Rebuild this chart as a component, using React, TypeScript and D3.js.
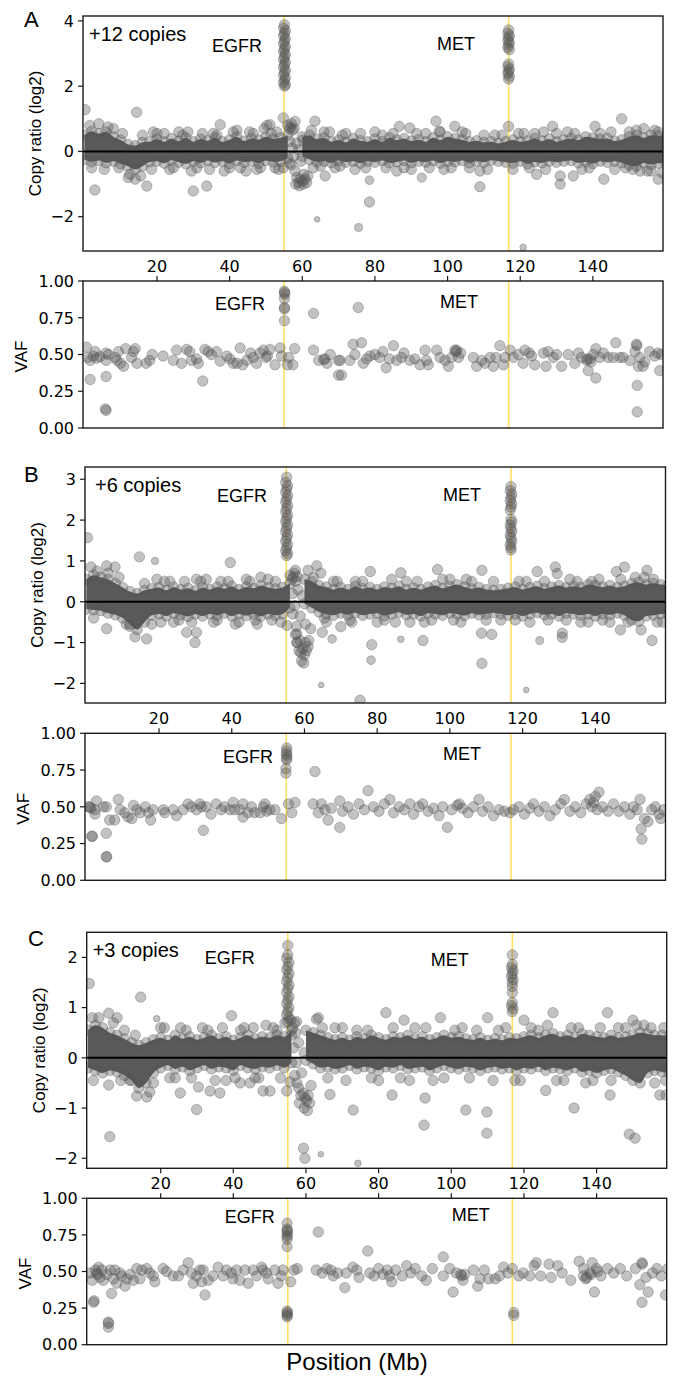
import React from "react";
import * as d3 from "d3";

// ---------------- DATA ----------------
// copy-ratio dense band: bin centres (Mb) with upper / lower edge of the dense scatter (log2)
const binMb = [0,2,4,6,8,10,12,14,16,18,20,22,24,26,28,30,32,34,36,38,40,42,44,46,48,50,52,54,56,58,60,62,64,66,68,70,72,74,76,78,80,82,84,86,88,90,92,94,96,98,100,102,104,106,108,110,112,114,116,118,120,122,124,126,128,130,132,134,136,138,140,142,144,146,148,150,152,154,156,158,160];
const N = NaN;
const coreHiA = [.5,.62,.55,.6,.45,.35,.22,.18,.28,.3,.38,.3,.4,.32,.42,.3,.38,.33,.42,.3,.36,.45,.32,.4,.36,.45,.38,.42,.5,N,.45,.5,.38,.42,.3,.35,.28,.4,.33,.3,.38,.3,.42,.35,.4,.32,.36,.3,.42,.35,.45,.4,.36,.3,.33,.28,.3,.25,.3,.35,.3,.33,.4,.32,.38,.3,.36,.4,.35,.45,.42,.38,.4,.32,.36,.45,.5,.42,.5,.48,.45];
const coreLoA = [-.25,-.32,-.28,-.35,-.3,-.38,-.45,-.55,-.45,-.32,-.3,-.36,-.27,-.33,-.38,-.3,-.35,-.28,-.34,-.3,-.37,-.28,-.33,-.3,-.36,-.28,-.32,-.3,-.2,N,-.15,-.25,-.32,-.3,-.35,-.28,-.33,-.3,-.36,-.3,-.33,-.28,-.35,-.32,-.28,-.35,-.3,-.33,-.28,-.36,-.3,-.32,-.28,-.35,-.3,-.33,-.27,-.3,-.33,-.36,-.3,-.38,-.32,-.35,-.3,-.33,-.3,-.28,-.35,-.32,-.37,-.3,-.33,-.3,-.35,-.42,-.45,-.35,-.4,-.36,-.35];
const coreHiB = [.55,.65,.6,.55,.45,.35,.25,.2,.28,.32,.35,.28,.36,.3,.33,.27,.35,.3,.36,.32,.38,.3,.36,.33,.4,.35,.32,.35,.45,N,.55,.5,.4,.36,.3,.35,.3,.38,.32,.35,.3,.36,.33,.38,.3,.34,.3,.36,.4,.33,.38,.42,.36,.32,.35,.3,.28,.3,.33,.36,.3,.35,.38,.32,.36,.4,.35,.38,.35,.42,.4,.36,.4,.35,.38,.45,.48,.42,.45,.42,.4];
const coreLoB = [-.18,-.2,-.22,-.28,-.32,-.4,-.55,-.68,-.5,-.33,-.3,-.35,-.28,-.32,-.36,-.3,-.35,-.3,-.33,-.28,-.35,-.3,-.34,-.3,-.36,-.3,-.33,-.3,-.15,N,-.05,-.15,-.25,-.3,-.33,-.28,-.32,-.27,-.33,-.3,-.28,-.34,-.3,-.26,-.32,-.3,-.35,-.28,-.3,-.33,-.28,-.3,-.34,-.28,-.32,-.3,-.27,-.3,-.33,-.3,-.35,-.3,-.27,-.32,-.3,-.35,-.28,-.3,-.33,-.3,-.35,-.3,-.32,-.28,-.33,-.45,-.48,-.35,-.33,-.3,-.3];
const coreHiC = [.55,.65,.6,.5,.45,.38,.3,.25,.3,.36,.4,.35,.45,.38,.42,.36,.4,.45,.38,.42,.35,.4,.45,.38,.42,.4,.45,.42,.55,N,.55,.5,.45,.4,.36,.4,.35,.42,.38,.45,.4,.36,.42,.4,.45,.38,.42,.36,.4,.45,.4,.42,.38,.36,.4,.35,.38,.35,.4,.38,.42,.45,.4,.45,.48,.42,.45,.4,.48,.45,.42,.4,.45,.4,.42,.45,.5,.48,.45,.45,.42];
const coreLoC = [-.2,-.25,-.3,-.25,-.28,-.35,-.45,-.6,-.5,-.3,-.2,-.15,-.22,-.18,-.25,-.2,-.15,-.22,-.18,-.2,-.25,-.15,-.2,-.22,-.18,-.2,-.15,-.2,-.1,N,-.05,-.12,-.2,-.18,-.22,-.2,-.15,-.22,-.18,-.2,-.25,-.18,-.2,-.15,-.22,-.2,-.18,-.25,-.2,-.15,-.2,-.22,-.18,-.2,-.25,-.2,-.18,-.22,-.2,-.25,-.2,-.22,-.18,-.25,-.2,-.22,-.25,-.2,-.28,-.25,-.3,-.25,-.22,-.28,-.35,-.45,-.5,-.3,-.25,-.28,-.3];

// amplified segments [Mb, log2 ratio]
const egfrA = [[55.1,3.88],[54.85,3.78],[55.35,3.7],[55.1,3.62],[54.85,3.54],[55.35,3.46],[55.1,3.38],[54.85,3.3],[55.35,3.22],[55.1,3.14],[54.85,3.06],[55.35,2.98],[55.1,2.9],[54.85,2.82],[55.35,2.74],[55.1,2.66],[54.85,2.58],[55.35,2.5],[55.1,2.42],[54.85,2.34],[55.35,2.26],[55.1,2.18],[54.85,2.1],[55.35,2.04],[55.1,2.0]];
const metA = [[116.8,3.72],[116.6,3.62],[117.0,3.55],[116.8,3.48],[116.6,3.4],[117.0,3.33],[116.8,3.26],[116.6,3.18],[117.0,3.12],[116.8,2.68],[116.6,2.6],[117.0,2.52],[116.8,2.45],[116.6,2.38],[117.0,2.3],[116.8,2.22]];
const egfrB = [[55.1,3.05],[54.85,2.92],[55.35,2.84],[55.1,2.76],[54.85,2.68],[55.35,2.6],[55.1,2.52],[54.85,2.44],[55.35,2.36],[55.1,2.28],[54.85,2.2],[55.35,2.12],[55.1,2.04],[54.85,1.96],[55.35,1.88],[55.1,1.8],[54.85,1.72],[55.35,1.64],[55.1,1.56],[54.85,1.48],[55.35,1.4],[55.1,1.32],[54.85,1.25],[55.35,1.18],[55.1,1.13]];
const metB = [[116.8,2.82],[116.6,2.72],[117.0,2.64],[116.8,2.56],[116.6,2.48],[117.0,2.4],[116.8,2.32],[116.6,2.25],[116.8,2.02],[117.0,1.95],[116.6,1.88],[116.8,1.8],[117.0,1.72],[116.6,1.64],[116.8,1.56],[117.0,1.48],[116.6,1.4],[116.8,1.33],[116.8,1.27]];
const egfrC = [[55.0,2.24],[55.0,2.05],[54.7,1.98],[55.3,1.9],[55.0,1.82],[54.7,1.75],[55.3,1.68],[55.0,1.6],[54.7,1.52],[55.3,1.45],[55.0,1.38],[54.7,1.3],[55.3,1.22],[55.0,1.15],[54.7,1.08],[55.3,1.0],[55.0,0.93],[54.7,0.86],[55.3,0.8],[55.0,0.72]];
const metC = [[116.8,2.05],[116.8,1.86],[116.6,1.8],[117.0,1.74],[116.8,1.68],[116.6,1.62],[117.0,1.56],[116.8,1.5],[116.8,1.42],[116.8,1.3],[116.8,1.1],[116.6,1.04],[117.0,0.98],[116.8,0.92]];

// centromere-adjacent clusters [Mb, log2 ratio]
const clusterA = [[56,.8],[56.5,.7],[57,.85],[57.3,.65],[56.8,.75],[57.8,.7],[58,-.6],[58.5,-.8],[59,-.95],[59.5,-.85],[60,-.9],[60.3,-1.0],[60.8,-.85],[61.2,-.95],[59.2,-1.05],[60.5,-.7],[61.5,-.75],[58.2,-1.0],[56.6,.3],[57.2,.1],[57.6,-.15],[58.4,.25],[59,.05],[59.6,-.3],[60.2,.35],[56.9,-.4]];
const clusterB = [[56,.65],[56.6,.55],[57.2,.7],[57.6,.5],[56.9,.6],[58,.62],[57.5,-.8],[58,-1.0],[58.5,-1.2],[59,-1.25],[59.5,-1.15],[60,-1.3],[60.5,-1.2],[61,-1.1],[59.2,-1.45],[59.8,-1.5],[58.8,-.95],[60.3,-1.0],[61.2,-.95],[57.8,-.6],[56.7,.2],[57.3,-.1],[58.2,.3],[58.8,-.35],[59.4,.15],[56.8,-.3]];
const clusterC = [[55.8,.75],[56.3,.6],[56.8,.7],[57.2,.5],[56,.45],[57.5,-.5],[58,-.6],[58.6,-.75],[59.2,-.7],[59.8,-.8],[60.2,-.85],[60.6,-.75],[61,-.9],[59.5,-1.0],[60.4,-1.05],[58.2,-.9],[61.4,-.55],[56.6,.2],[57.3,-.1],[58,.3],[58.8,-.3],[59.5,.1],[56.9,-.35]];

// scattered segments [Mb, log2 ratio, weight]
const outA = [[0.2,1.28,1],[14.4,1.2,1],[2.9,-1.18,1],[17.2,-1.06,1],[30,-1.21,1],[33.7,-1.06,1],[12.1,-.8,1],[14,-.85,1],[37.4,.82,1],[19,.6,1],[51.1,.82,1],[50.3,.8,1],[54.8,1.03,1],[54.8,-.5,1],[52.5,-.5,1],[58,.92,1],[64.1,-2.08,.3],[63.5,.93,1],[66.3,-.75,1],[65,-.45,1],[75.5,-2.33,.6],[78.5,-1.55,1],[78.5,-.88,.7],[120.8,-2.94,.4],[108.9,-1.08,1],[96.8,.93,1],[86.7,.77,1],[89.6,.72,1],[102,.77,1],[128.9,.77,1],[126.4,.6,1],[140.6,.77,1],[147.9,1.0,1],[131,-.75,1],[131,-1.0,1],[134.6,-.75,1],[143,-.85,1],[158,-.85,1],[156,-.6,1],[92.9,-.8,.8],[86,-.6,1],[108.9,-.6,1],[124.5,-.7,1],[70.4,-.45,1],[97.7,.62,1],[116.8,.77,1],
  [1.5,.8,1],[4,.85,1],[6.5,.75,1],[8,.7,1],[9.5,-.5,1],[5.5,-.55,1],[16,.5,1],[18.5,-.55,1],[22,.55,1],[24.5,-.5,1],[26,.6,1],[28.5,.6,1],[31,-.5,1],[35.5,.55,1],[38.5,-.6,1],[41,.6,1],[43,-.5,1],[45.5,.6,1],[47.5,-.55,1],[49.5,.7,1],[53,.6,1],[56.5,-.35,1],[62.5,.65,1],[67.5,.6,1],[72,.55,1],[74.5,-.55,1],[80,.6,1],[83,-.5,1],[90,-.55,1],[94,.55,1],[99,-.55,1],[104,.6,1],[106,-.5,1],[113,.5,1],[118,-.55,1],[121,.55,1],[124,.55,1],[133,.6,1],[137,-.55,1],[145,.6,1],[149,-.5,1],[152,.65,1],[154,.7,1],[157,.65,1],[159,-.65,1],[151,-.55,1],
  [2,-.5,1],[10.5,.55,1],[12.5,-.7,1],[15.5,-.75,1],[20,.55,1],[23.5,-.55,1],[27,.5,1],[29.5,-.6,1],[32.5,.55,1],[34.5,-.55,1],[36.5,.5,1],[40,-.5,1],[42,.65,1],[44.5,-.6,1],[46.5,.55,1],[48.5,-.5,1],[51.5,.55,1],[53.5,-.55,1],[63,-.5,1],[66,.6,1],[69,-.5,1],[71,.5,1],[76,.55,1],[77.5,-.5,1],[82,.5,1],[85,.55,1],[88,-.5,1],[91.5,.55,1],[95,-.5,1],[98,.6,1],[101,-.5,1],[105,.55,1],[110,.5,1],[111,-.55,1],[115,.5,1],[119.5,.55,1],[122.5,-.5,1],[127,-.55,1],[130,.55,1],[135,.55,1],[139,-.5,1],[142,.55,1],[146,-.55,1],[150,.6,1],[153,-.6,1],[155,-.6,1],[158,.6,1]];
const outB = [[0.3,1.57,1],[14.6,1.1,1],[18.9,1.0,.5],[39.6,.96,1],[5.6,.88,1],[7.9,.85,1],[1.3,.85,1],[19.4,.55,1],[30.3,.55,1],[27.6,-.75,1],[30.3,-.75,1],[29.9,-1.0,1],[16.6,-.91,1],[13.4,-.86,1],[5.6,-.66,1],[55.2,-.58,1],[57.9,-.79,1],[57.9,-1.0,1],[64.6,-2.04,.3],[60.3,-.55,1],[61.7,-.66,1],[67.6,-.91,.7],[64.9,-.75,1],[66,-.5,1],[57.5,.77,1],[61,.77,1],[63.4,.88,1],[64.5,.7,1],[75.3,-2.41,1],[78.3,-1.43,.7],[78.5,-1.05,1],[70,-.61,1],[86.5,-.92,.4],[92.6,-.95,1],[108.8,-1.51,1],[108.7,-.77,1],[111.5,-.8,1],[121,-2.16,.3],[124.7,-.95,.6],[130.9,-.77,1],[130.9,-.87,1],[146.9,-.69,1],[152.6,-.69,1],[155.6,-.95,1],[78.1,.74,1],[86.5,.71,1],[96.6,.79,1],[108.8,.77,1],[124,.74,1],[129,.85,1],[129.5,.69,1],[145.8,.74,1],[148,.85,1],[154.2,.77,1],
  [3,.75,1],[9,.6,1],[11,-.55,1],[20.5,-.5,1],[23,.5,1],[25.5,-.45,1],[33,.55,1],[35,-.5,1],[37,.5,1],[42,-.5,1],[44,.55,1],[46.5,-.45,1],[48,.6,1],[52,.5,1],[53.5,-.5,1],[68,.5,1],[72.5,-.45,1],[74,.5,1],[82,-.45,1],[84,.55,1],[89,-.5,1],[91,.5,1],[95,-.45,1],[100,.55,1],[103,-.5,1],[106,.5,1],[114,-.45,1],[119,.5,1],[122,-.5,1],[127,-.45,1],[133,.55,1],[136,-.5,1],[139,.5,1],[142,-.45,1],[151,.6,1],[156,.55,1],[158.5,-.5,1],
  [2,-.4,1],[6,.7,1],[12,-.6,1],[16,.45,1],[18,-.55,1],[21.5,.5,1],[24,-.5,1],[27,.5,1],[29,-.5,1],[31.5,.5,1],[36,-.45,1],[39,.5,1],[41,-.55,1],[45,.5,1],[47,-.55,1],[50,.55,1],[51,-.45,1],[62.5,.6,1],[65.5,-.4,1],[69,.5,1],[73,-.5,1],[76,.5,1],[80,-.5,1],[85,-.5,1],[88,.5,1],[93,-.5,1],[98,.55,1],[101,-.45,1],[104.5,.55,1],[110,-.45,1],[112,.5,1],[118,-.45,1],[121,.5,1],[126,.5,1],[132,-.45,1],[135,.5,1],[138,-.5,1],[141,.55,1],[144,-.5,1],[147,.55,1],[149,-.5,1],[153.5,.6,1],[157,-.5,1]];
const outC = [[0.36,1.48,1],[14.5,1.21,1],[18.9,.78,.4],[39.5,.84,1],[5.7,.89,1],[8,.8,1],[1.2,.8,1],[6,-1.57,1],[5.7,-.54,1],[13.4,-.76,1],[16.2,-.78,1],[17,-.68,1],[25.4,-.7,1],[29.9,-1.03,1],[30.4,-.58,1],[33.6,-.66,1],[36.3,-.7,1],[41.9,-.5,1],[44.6,-.5,1],[48.2,-.66,1],[50.1,-.66,1],[54.7,-.66,1],[55.6,-.48,1],[59.3,-1.8,1],[59.7,-2.0,1],[64.1,-1.92,.3],[54.2,.7,1],[57.4,.72,1],[62.9,.77,1],[63.4,.8,1],[66.6,-.73,1],[73,-1.04,1],[74.3,-2.1,.4],[83.7,-.74,1],[92.8,-.8,1],[92.5,-1.34,1],[104,-1.04,1],[109.8,-1.08,1],[109.8,-1.5,1],[126,-.65,1],[133.8,-1.0,1],[149,-1.52,1],[150.6,-1.6,1],[143.7,-.74,1],[157.4,-.74,1],[159.1,-.74,1],[82,.9,1],[97,.8,1],[110,.8,1],[128,.9,1],[143,.9,1],[150,.75,1],[120,.75,1],[122,.6,1],[87,.75,1],
  [3,.8,1],[10,.55,1],[11.5,-.45,1],[20,.6,1],[22.5,-.4,1],[27,.55,1],[31.5,.6,1],[38,-.45,1],[43,.6,1],[46,-.4,1],[49,.65,1],[52,.55,1],[68,.6,1],[71,-.45,1],[77,.55,1],[80,-.45,1],[86,-.4,1],[90,.6,1],[95,-.45,1],[101,.55,1],[105,-.4,1],[113,.55,1],[117.5,-.45,1],[124,.55,1],[131,-.45,1],[135,.6,1],[139,-.45,1],[146,.6,1],[153,.65,1],[156,-.5,1],[158.5,.6,1],
  [1.5,-.45,1],[7,.7,1],[9,-.45,1],[13,.45,1],[18,-.5,1],[21,.6,1],[24,-.4,1],[25.5,.6,1],[28.5,-.4,1],[33,.55,1],[35,-.45,1],[37,.6,1],[40.5,-.4,1],[42,.55,1],[45.5,.6,1],[47,-.4,1],[51,.6,1],[53,-.4,1],[64.5,.6,1],[66,-.4,1],[70,.6,1],[74,.55,1],[78,-.4,1],[84,.6,1],[88.5,-.45,1],[93,.6,1],[98,-.4,1],[103,.6,1],[107,.55,1],[111.5,-.45,1],[115,.6,1],[119,-.45,1],[126.5,.65,1],[129,-.45,1],[133,.6,1],[137,-.5,1],[141,.6,1],[144,-.45,1],[148,.6,1],[151,.65,1],[155,.6,1],[159,-.45,1]];

// allele fractions [Mb, VAF]
const vafA = [[0.6,.55],[0.9,.48],[1.6,.46],[2.5,.49],[3.4,.475],[4.3,.485],[3,.52],[1.6,.33],[6,.46],[6,.51],[6.6,.5],[6,.35],[6,.12],[5.8,.13],[8.5,.48],[9.4,.52],[9,.46],[10,.44],[10.8,.42],[11.4,.54],[13.5,.52],[14,.54],[13,.48],[14.5,.44],[17,.44],[18,.46],[18.7,.5],[21.7,.49],[24.5,.46],[25.4,.53],[26.8,.44],[28.2,.535],[29,.52],[29.5,.46],[30.9,.47],[31.4,.44],[32.6,.32],[33.2,.535],[34.1,.52],[35,.5],[36.4,.52],[37.4,.455],[39.2,.49],[40.1,.47],[41,.44],[42,.44],[42.9,.545],[43.6,.43],[44.7,.46],[45.8,.51],[46.5,.48],[47.4,.44],[48.4,.51],[49.3,.53],[50,.48],[50.4,.49],[51.1,.535],[52.5,.43],[53.9,.545],[54.3,.49],[55.1,.93],[55.1,.92],[55.2,.91],[55.1,.88],[55.1,.82],[55.1,.81],[55.1,.73],[56.2,.48],[55.9,.43],[57.4,.43],[57.9,.54],[63.1,.78],[63.1,.53],[64.5,.46],[65.9,.465],[66.2,.47],[66.8,.44],[67.7,.5],[70,.46],[70,.36],
  [70.4,.46],[70.8,.36],[73.1,.46],[74,.57],[75.4,.82],[76.3,.58],[74.5,.5],[76.8,.44],[77.7,.47],[78.6,.49],[80,.5],[81.3,.48],[82.2,.52],[83.1,.41],[84,.47],[85.1,.56],[86,.46],[87.3,.48],[88,.51],[89.6,.46],[91,.47],[92.4,.43],[93.8,.53],[94.2,.46],[94.7,.43],[97,.53],[97.9,.48],[99.3,.46],[100.2,.42],[101.1,.48],[102,.53],[102.5,.53],[102.3,.52],[103.6,.51],[103,.48],[107.1,.48],[108,.42],[109.4,.46],[110.3,.44],[111.7,.48],[112.6,.42],[113.3,.48],[114.4,.56],[115.4,.43],[115.8,.48],[117.2,.53],[118.1,.48],[119.5,.5],[120.8,.44],[121.3,.53],[122.5,.51],[123.1,.49],[124,.43],[126.4,.51],[127.1,.42],[127.7,.52],[129.1,.48],[130,.5],[131.4,.42],[133.2,.5],[135,.44],[136,.51],[136.9,.48],[138.3,.46],[138.5,.47],[138.7,.39],[139.2,.47],[139.5,.45],[140.1,.5],[140.8,.54],[140.8,.34],[141.9,.48],[142.9,.51],[144.2,.48],[145.6,.48],[146.3,.58],[147.4,.48],[148.3,.48],[150.2,.46],[151.6,.52],[152,.57],[152.1,.56],[152.2,.29],[152.2,.11],[152.5,.42],[152.9,.48],[153.8,.42],[154.3,.45],[155.6,.52],[157,.49],[157.9,.51],[158.4,.39],[158.8,.5]];
const vafB = [[0.6,.5],[1,.5],[1.3,.49],[2.4,.48],[2.4,.45],[2.8,.54],[1.5,.3],[1.7,.3],[4.7,.5],[5.5,.5],[5.5,.32],[5.5,.16],[5.6,.16],[6.4,.41],[7.8,.41],[8.8,.55],[9.3,.48],[10.6,.46],[11.5,.43],[12.5,.42],[13,.51],[13.9,.48],[14.8,.46],[16.2,.5],[17.1,.46],[17.7,.41],[18.4,.48],[21.2,.48],[21.6,.46],[23.9,.48],[24.8,.44],[26.6,.48],[28,.52],[28.9,.5],[30.3,.48],[31.2,.52],[31.7,.5],[32.2,.34],[33,.5],[34.3,.45],[35.7,.52],[37.1,.48],[38,.5],[39.5,.48],[40.4,.53],[40.8,.48],[42.3,.48],[43.1,.52],[43.1,.43],[44.5,.46],[45.4,.5],[46.3,.46],[47.8,.46],[48.7,.5],[49.1,.52],[49.6,.47],[50.5,.48],[51.9,.48],[53.7,.42],[55.1,.9],[55.1,.88],[55.0,.86],[55.2,.85],[55.1,.83],[55.1,.82],[54.9,.76],[54.9,.73],[55.6,.52],[56.5,.46],[57.4,.53],[62.9,.74],[62.4,.52],[63.8,.46],[64.7,.52],[65.6,.48],[66.5,.41],[67.4,.49],[69.7,.54],[69.7,.36],
  [70.5,.47],[72,.5],[73.5,.45],[75,.52],[76.5,.48],[77.5,.61],[79,.5],[80.5,.47],[82,.52],[83.5,.55],[84.5,.46],[86,.5],[87.5,.48],[89,.52],[90,.45],[91.5,.5],[92.5,.52],[94,.47],[95.5,.49],[97,.44],[98,.5],[99.3,.36],[100.5,.48],[102,.51],[102.6,.52],[103.5,.49],[105,.46],[106.5,.5],[108,.55],[109,.47],[110.5,.5],[112,.44],[113.5,.48],[115,.47],[116.5,.46],[117.5,.48],[119,.5],[120.5,.45],[122,.49],[123,.52],[124.5,.47],[126,.5],[127.5,.44],[129,.48],[130.5,.52],[131.5,.55],[133,.47],[134.5,.5],[136,.46],[137.5,.52],[138.5,.55],[139,.5],[139.5,.53],[140,.57],[140.5,.48],[141,.6],[142,.5],[143.5,.47],[145,.52],[146.5,.47],[148,.5],[149.5,.45],[150.5,.5],[151.5,.48],[152.3,.55],[152.6,.35],[152.8,.28],[153.5,.42],[154.5,.4],[155.5,.48],[156.5,.5],[157.5,.45],[158,.42],[158.8,.48]];
const vafC = [[0.6,.49],[1.2,.44],[2.1,.51],[2.4,.49],[2.6,.48],[2.9,.53],[3.3,.46],[1.5,.29],[1.7,.3],[3.8,.51],[4.2,.44],[5.2,.48],[5.6,.145],[5.6,.155],[5.6,.12],[6.5,.35],[6.1,.51],[7,.45],[7.4,.51],[7.9,.42],[8.8,.49],[9.3,.47],[10.2,.4],[10.7,.45],[11.6,.48],[12.5,.44],[13.4,.52],[14.3,.45],[14.8,.51],[16.2,.52],[17,.49],[18,.47],[18.4,.43],[20.7,.52],[21.6,.5],[23.4,.47],[24.9,.47],[26.2,.51],[27.6,.56],[28.5,.49],[29,.42],[29.9,.47],[30.8,.51],[31.3,.43],[32.2,.34],[31.7,.51],[33.1,.44],[34.4,.47],[35.8,.53],[37.2,.47],[38.1,.51],[39.5,.49],[39.9,.45],[40.9,.51],[41.8,.44],[43.2,.51],[44.1,.42],[45.5,.51],[46.4,.47],[47.8,.53],[48.2,.51],[49.1,.49],[49.6,.45],[51.4,.51],[52.3,.42],[53.2,.47],[53.7,.51],[54.8,.83],[54.8,.79],[54.9,.78],[54.8,.77],[54.9,.75],[54.8,.74],[54.8,.72],[54.8,.67],[54.8,.23],[54.9,.22],[54.8,.21],[54.9,.2],[54.8,.19],[55.8,.43],[56.7,.51],[57.6,.52],
  [63.4,.77],[62.8,.51],[64.5,.49],[65.7,.52],[66.9,.51],[67.5,.47],[68.7,.49],[70.7,.39],[71.1,.49],[72.9,.53],[74,.51],[74.6,.46],[77,.64],[77.6,.49],[78.8,.47],[80,.52],[81.2,.48],[82.4,.51],[83,.47],[83.6,.43],[84.7,.51],[86.5,.47],[87.7,.54],[88.9,.49],[90.1,.52],[91.9,.47],[93.1,.44],[94.8,.52],[97.8,.6],[97.8,.47],[99.6,.52],[100.5,.36],[101.4,.49],[102.6,.48],[102.9,.47],[103.7,.48],[103.2,.44],[106.1,.51],[107.3,.4],[107.9,.45],[109.1,.51],[110.3,.45],[112.1,.45],[113.3,.47],[114.4,.53],[115.6,.49],[117.2,.22],[117.2,.2],[116.8,.52],[118.6,.47],[119.8,.49],[121.6,.47],[122.8,.54],[123.4,.56],[124.6,.47],[126.9,.55],[127.5,.46],[129.3,.54],[130.5,.49],[132.9,.44],[135.2,.57],[136.4,.52],[136.4,.47],[137,.45],[137.3,.46],[138.2,.49],[138.5,.48],[138.8,.56],[139.4,.36],[140,.52],[140.3,.5],[141.2,.47],[143,.52],[144.7,.49],[146.5,.52],[148.3,.47],[150.7,.52],[151.9,.41],[152.5,.56],[152.6,.55],[152.5,.29],[153.6,.46],[154.2,.36],[155.4,.49],[156.6,.52],[157.8,.47],[159,.34],[159.6,.52]];

// ticks and labels
const xTicks = [20, 40, 60, 80, 100, 120, 140];
const vafTicks = [0, 0.25, 0.5, 0.75, 1];
const crTicksA = [-2, 0, 2, 4];
const crTicksB = [-2, -1, 0, 1, 2, 3];
const crTicksC = [-2, -1, 0, 1, 2];
const geneMb = { EGFR: 55.0, MET: 116.8 };
const copyLabels = ["+12 copies", "+6 copies", "+3 copies"];
const panelLetters = ["A", "B", "C"];

// ---------------- DRAWING ----------------
const SANS = "'Liberation Sans', Arial, Helvetica, sans-serif";
const TICKF = "'DejaVu Sans', Verdana, sans-serif";
const PT = "#555555";
const X_DOMAIN: [number, number] = [-0.36, 159.3];
const rScale = d3.scaleSqrt().domain([0, 1]).range([0, 5.2]);
const fmtMinus = (v: number) => (v < 0 ? "\u2212" + Math.abs(v) : String(v));

function Dot({ cx, cy, r }: { cx: number; cy: number; r: number }) {
  return (
    <circle cx={cx} cy={cy} r={r} fill={PT} fillOpacity={0.36} stroke={PT} strokeOpacity={0.36} strokeWidth={1} />
  );
}

function CRPanel(p: any) {
  const x = d3.scaleLinear().domain(X_DOMAIN).range([p.left, p.right]);
  const y = d3.scaleLinear().domain(p.yDomain).range([p.bottom, p.top]);
  const idx = d3.range(binMb.length);
  const area = d3
    .area<number>()
    .defined((i) => !isNaN(p.hi[i]))
    .x((i) => x(binMb[i]))
    .y0((i) => y(p.lo[i]))
    .y1((i) => y(p.hi[i]))
    .curve(d3.curveMonotoneX);
  const clip = "clip-" + p.id;
  const dots: any[] = [];
  idx.forEach((i) => {
    if (isNaN(p.hi[i])) return;
    dots.push(<Dot key={"h" + i} cx={x(binMb[i])} cy={y(p.hi[i])} r={rScale(1)} />);
    dots.push(<Dot key={"l" + i} cx={x(binMb[i])} cy={y(p.lo[i])} r={rScale(1)} />);
  });
  p.out.forEach((d: number[], i: number) => dots.push(<Dot key={"o" + i} cx={x(d[0])} cy={y(d[1])} r={rScale(d[2])} />));
  p.cluster.forEach((d: number[], i: number) => dots.push(<Dot key={"c" + i} cx={x(d[0])} cy={y(d[1])} r={rScale(1)} />));
  p.egfr.forEach((d: number[], i: number) => dots.push(<Dot key={"e" + i} cx={x(d[0])} cy={y(d[1])} r={rScale(1)} />));
  p.met.forEach((d: number[], i: number) => dots.push(<Dot key={"m" + i} cx={x(d[0])} cy={y(d[1])} r={rScale(1)} />));
  return (
    <g>
      <defs>
        <clipPath id={clip}>
          <rect x={p.left} y={p.top} width={p.right - p.left} height={p.bottom - p.top} />
        </clipPath>
      </defs>
      <g clipPath={`url(#${clip})`}>
        {[geneMb.EGFR, geneMb.MET].map((g) => (
          <line key={g} x1={x(g)} x2={x(g)} y1={p.top} y2={p.bottom} stroke="#ffe066" strokeWidth={1.6} />
        ))}
        <path d={area(idx) || ""} fill="#5a5a5a" />
        {dots}
        <line x1={p.left} x2={p.right} y1={y(0)} y2={y(0)} stroke="#000" strokeWidth={2} />
      </g>
      <rect x={p.left} y={p.top} width={p.right - p.left} height={p.bottom - p.top} fill="none" stroke="#1a1a1a" strokeWidth={1.4} />
      {p.ticks.map((t: number) => (
        <g key={t}>
          <line x1={p.left - 5} x2={p.left} y1={y(t)} y2={y(t)} stroke="#1a1a1a" strokeWidth={1.2} />
          <text x={p.left - 9} y={y(t)} dy="0.36em" textAnchor="end" fontFamily={TICKF} fontSize={16} fill="#000">
            {fmtMinus(t)}
          </text>
        </g>
      ))}
      {p.bottomTicks &&
        xTicks.map((t) => (
          <line key={"bt" + t} x1={x(t)} x2={x(t)} y1={p.bottom} y2={p.bottom + 5} stroke="#1a1a1a" strokeWidth={1.2} />
        ))}
      <text
        transform={`translate(${p.left - 42},${(p.top + p.bottom) / 2}) rotate(-90)`}
        textAnchor="middle"
        fontFamily={SANS}
        fontSize={17}
        fill="#000"
      >
        Copy ratio (log2)
      </text>
      <text x={p.letterX} y={p.letterY} fontFamily={SANS} fontSize={22} fill="#000">
        {p.letter}
      </text>
      <text x={p.left + p.copiesDx} y={p.top + p.copiesDy} fontFamily={SANS} fontSize={20} fill="#000">
        {p.copies}
      </text>
      <text x={p.left + p.egfrDx} y={p.top + p.egfrDy} fontFamily={SANS} fontSize={18} fill="#000">
        EGFR
      </text>
      <text x={p.left + p.metDx} y={p.top + p.metDy} fontFamily={SANS} fontSize={18} fill="#000">
        MET
      </text>
    </g>
  );
}

function VAFPanel(p: any) {
  const x = d3.scaleLinear().domain(X_DOMAIN).range([p.left, p.right]);
  const y = d3.scaleLinear().domain([0, 1]).range([p.bottom, p.top]);
  const clip = "clip-" + p.id;
  return (
    <g>
      <defs>
        <clipPath id={clip}>
          <rect x={p.left} y={p.top} width={p.right - p.left} height={p.bottom - p.top} />
        </clipPath>
      </defs>
      <g clipPath={`url(#${clip})`}>
        {[geneMb.EGFR, geneMb.MET].map((g) => (
          <line key={g} x1={x(g)} x2={x(g)} y1={p.top} y2={p.bottom} stroke="#ffe066" strokeWidth={1.6} />
        ))}
        {p.data.map((d: number[], i: number) => (
          <Dot key={i} cx={x(d[0])} cy={y(d[1])} r={rScale(1)} />
        ))}
      </g>
      <rect x={p.left} y={p.top} width={p.right - p.left} height={p.bottom - p.top} fill="none" stroke="#1a1a1a" strokeWidth={1.4} />
      {vafTicks.map((t) => (
        <g key={t}>
          <line x1={p.left - 5} x2={p.left} y1={y(t)} y2={y(t)} stroke="#1a1a1a" strokeWidth={1.2} />
          <text x={p.left - 9} y={y(t)} dy="0.36em" textAnchor="end" fontFamily={TICKF} fontSize={16} fill="#000">
            {d3.format(".2f")(t)}
          </text>
        </g>
      ))}
      {xTicks.map((t) => (
        <g key={"x" + t}>
          <line x1={x(t)} x2={x(t)} y1={p.top - 5} y2={p.top} stroke="#1a1a1a" strokeWidth={1.2} />
          <text x={x(t)} y={p.top - 9} textAnchor="middle" fontFamily={TICKF} fontSize={16} fill="#000">
            {t}
          </text>
        </g>
      ))}
      <text
        transform={`translate(${p.left - 56},${(p.top + p.bottom) / 2 + 2}) rotate(-90)`}
        textAnchor="middle"
        fontFamily={SANS}
        fontSize={17}
        fill="#000"
      >
        VAF
      </text>
      <text x={p.left + p.egfrDx} y={p.top + p.egfrDy} fontFamily={SANS} fontSize={18} fill="#000">
        EGFR
      </text>
      <text x={p.left + p.metDx} y={p.top + p.metDy} fontFamily={SANS} fontSize={18} fill="#000">
        MET
      </text>
    </g>
  );
}

export default function App() {
  const crPanels = [
    { id: "crA", left: 83, right: 663, top: 16, bottom: 251, yDomain: [-3.05, 4.15], ticks: crTicksA, hi: coreHiA, lo: coreLoA, out: outA, cluster: clusterA, egfr: egfrA, met: metA, letter: panelLetters[0], letterX: 24, letterY: 27, copies: copyLabels[0], copiesDx: 6, copiesDy: 25, egfrDx: 129, egfrDy: 36, metDx: 354, metDy: 34, bottomTicks: false },
    { id: "crB", left: 85, right: 665.5, top: 467, bottom: 703, yDomain: [-2.48, 3.3], ticks: crTicksB, hi: coreHiB, lo: coreLoB, out: outB, cluster: clusterB, egfr: egfrB, met: metB, letter: panelLetters[1], letterX: 24, letterY: 482, copies: copyLabels[1], copiesDx: 10, copiesDy: 25, egfrDx: 132, egfrDy: 35, metDx: 358, metDy: 34, bottomTicks: false },
    { id: "crC", left: 86.7, right: 666.7, top: 932.3, bottom: 1168.3, yDomain: [-2.2, 2.5], ticks: crTicksC, hi: coreHiC, lo: coreLoC, out: outC, cluster: clusterC, egfr: egfrC, met: metC, letter: panelLetters[2], letterX: 28, letterY: 946, copies: copyLabels[2], copiesDx: 6, copiesDy: 24.5, egfrDx: 118, egfrDy: 32, metDx: 344, metDy: 34, bottomTicks: true },
  ];
  const vafPanels = [
    { id: "vA", left: 83, right: 663, top: 281, bottom: 428, data: vafA, egfrDx: 132, egfrDy: 29, metDx: 357, metDy: 27 },
    { id: "vB", left: 85, right: 665.5, top: 733.3, bottom: 880.3, data: vafB, egfrDx: 138, egfrDy: 29.5, metDx: 358, metDy: 27 },
    { id: "vC", left: 86.7, right: 666.7, top: 1198.3, bottom: 1344.7, data: vafC, egfrDx: 138, egfrDy: 24.5, metDx: 365, metDy: 22.5 },
  ];
  return (
    <svg width={675} height={1378} style={{ position: "absolute", left: 0, top: 0, display: "block", background: "#fff" }}>
      <rect x={0} y={0} width={675} height={1378} fill="#fff" />
      {crPanels.map((p) => (
        <CRPanel key={p.id} {...p} />
      ))}
      {vafPanels.map((p) => (
        <VAFPanel key={p.id} {...p} />
      ))}
      <text x={357} y={1370} textAnchor="middle" fontFamily={SANS} fontSize={24} fill="#000">
        Position (Mb)
      </text>
    </svg>
  );
}
